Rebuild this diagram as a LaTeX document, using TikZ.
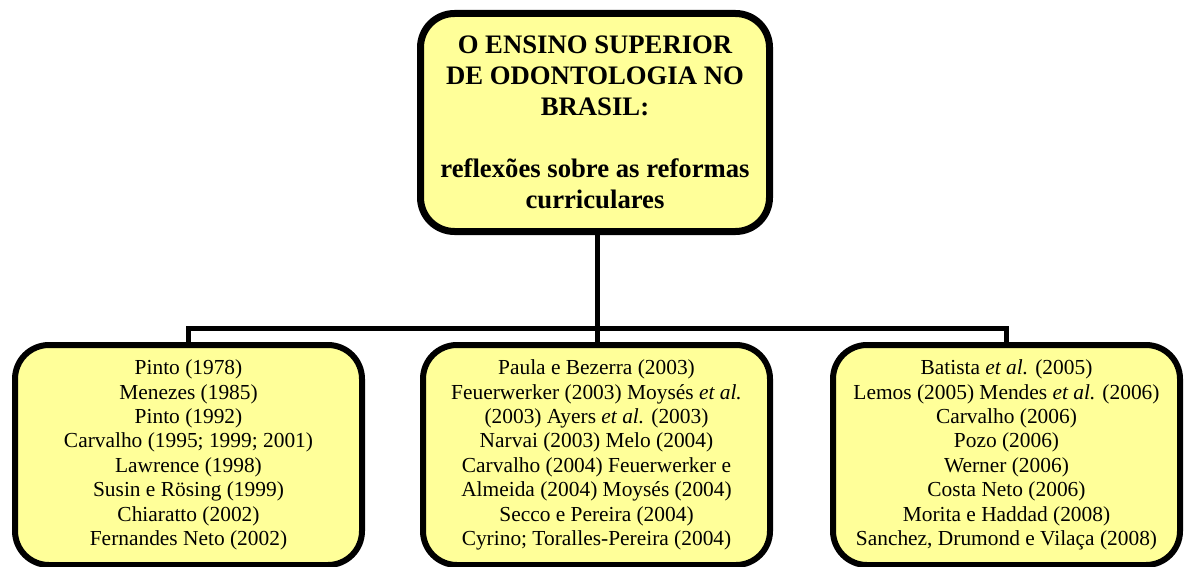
\documentclass[tikz,border=0pt]{standalone}
\usepackage{fontspec}
\setmainfont{Liberation Serif}
\usepackage{tikz}
\usetikzlibrary{shapes.geometric, arrows}
\definecolor{boxyellow}{RGB}{255,255,153}
\tikzstyle{titlebox} = [rectangle, rounded corners=34pt, minimum width=349pt, minimum height=218pt, align=center, draw=black, line width=7pt, fill=boxyellow, font=\bfseries\fontsize{26.7}{31}\selectfont]
\tikzstyle{refbox} = [rectangle, rounded corners=34pt, minimum width=347pt, minimum height=220pt, align=center, draw=black, line width=6pt, fill=boxyellow, font=\fontsize{21.4}{24.4}\selectfont]
\tikzstyle{link} = [line width=5pt, line cap=rect]

\begin{document}
\begin{tikzpicture}[x=1pt, y=1pt]
		\useasboundingbox (0,0) rectangle (1190,566);
		\node (title) [titlebox] at (595,443.5) {O ENSINO SUPERIOR\\DE ODONTOLOGIA NO\\BRASIL:\\[31pt]reflexões sobre as reformas\\curriculares};
		
		\node (refs1) [refbox] at (188.5,111) {Pinto (1978)\\Menezes (1985)\\Pinto (1992)\\Carvalho (1995; 1999; 2001)\\Lawrence (1998)\\Susin e Rösing (1999)\\Chiaratto (2002)\\Fernandes Neto (2002)};
		\node (refs2) [refbox] at (596.5,111) {Paula e Bezerra (2003)\\Feuerwerker (2003) Moysés \textit{et al.}\\(2003) Ayers \textit{et al.} (2003)\\Narvai (2003) Melo (2004)\\Carvalho (2004) Feuerwerker e\\Almeida (2004) Moysés (2004)\\Secco e Pereira (2004)\\Cyrino; Toralles-Pereira (2004)};
		\node (refs3) [refbox] at (1006.5,111) {Batista \textit{et al.} (2005)\\Lemos (2005) Mendes \textit{et al.} (2006)\\Carvalho (2006)\\Pozo (2006)\\Werner (2006)\\Costa Neto (2006)\\Morita e Haddad (2008)\\Sanchez, Drumond e Vilaça (2008)};
		
		\coordinate (bus) at (597,238);
		
		\draw [link] (title.south -| bus) -- (bus);
		\draw [link] (refs1.north) |- (bus);
		\draw [link] (bus) -| (refs3.north);
		\draw [link] (bus) -- (refs2.north -| bus);
		\end{tikzpicture}
\end{document}
